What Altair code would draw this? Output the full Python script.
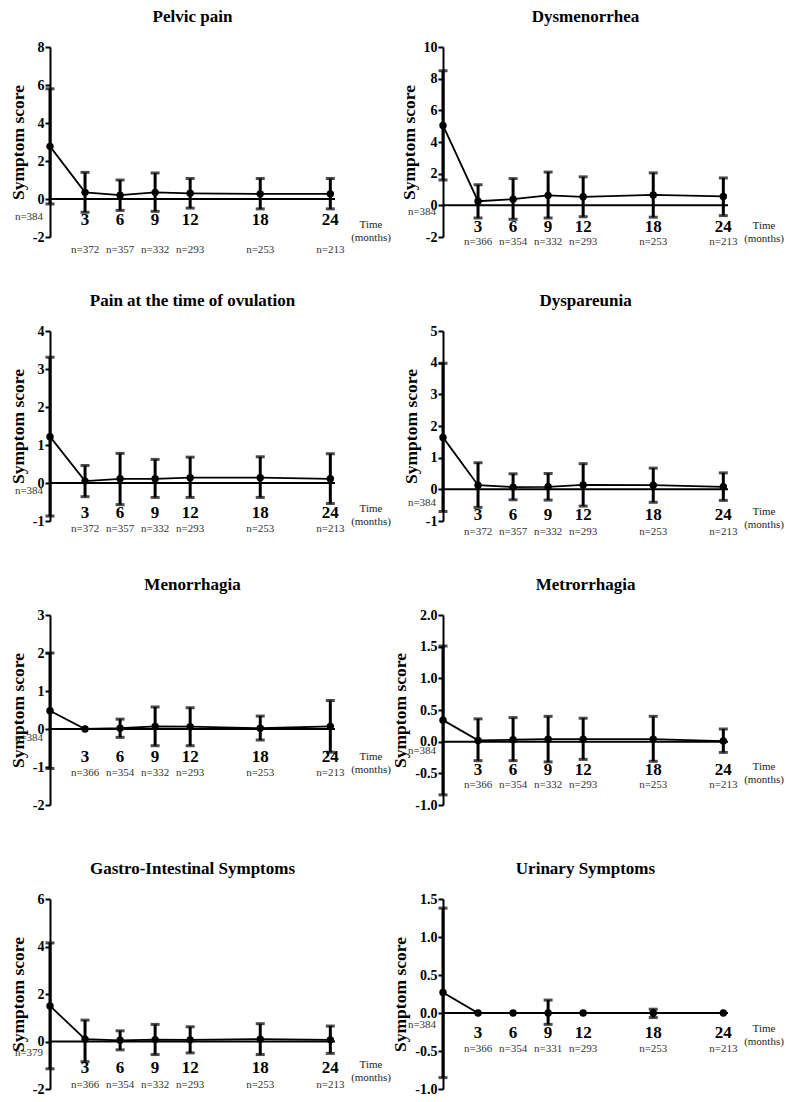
import altair as alt
import pandas as pd

months = [0, 3, 6, 9, 12, 18, 24]

titles = ["Pelvic pain", "Dysmenorrhea", "Pain at the time of ovulation", "Dyspareunia",
          "Menorrhagia", "Metrorrhagia", "Gastro-Intestinal Symptoms", "Urinary Symptoms"]

pelvic_mean = [2.77, 0.35, 0.20, 0.35, 0.30, 0.27, 0.27]
pelvic_upper = [5.80, 1.40, 1.00, 1.37, 1.08, 1.08, 1.08]
pelvic_lower = [-0.26, -0.70, -0.60, -0.65, -0.48, -0.52, -0.52]
pelvic_n = [384, 372, 357, 332, 293, 253, 213]

dysmen_mean = [5.05, 0.26, 0.39, 0.63, 0.54, 0.66, 0.56]
dysmen_upper = [8.50, 1.30, 1.69, 2.10, 1.80, 2.05, 1.73]
dysmen_lower = [1.60, -0.80, -0.88, -0.80, -0.72, -0.75, -0.65]
dysmen_n = [384, 366, 354, 332, 293, 253, 213]

ovul_mean = [1.22, 0.05, 0.11, 0.11, 0.14, 0.14, 0.11]
ovul_upper = [3.31, 0.46, 0.78, 0.62, 0.68, 0.69, 0.77]
ovul_lower = [-0.87, -0.36, -0.57, -0.38, -0.38, -0.38, -0.54]
ovul_n = [384, 372, 357, 332, 293, 253, 213]

dyspar_mean = [1.64, 0.13, 0.07, 0.08, 0.14, 0.13, 0.08]
dyspar_upper = [3.98, 0.84, 0.49, 0.50, 0.81, 0.67, 0.52]
dyspar_lower = [-0.70, -0.57, -0.33, -0.34, -0.53, -0.41, -0.35]
dyspar_n = [384, 372, 357, 332, 293, 253, 213]

menor_mean = [0.48, 0.00, 0.02, 0.07, 0.06, 0.02, 0.07]
menor_upper = [2.00, 0.00, 0.26, 0.58, 0.56, 0.34, 0.75]
menor_lower = [-1.04, 0.00, -0.22, -0.44, -0.44, -0.29, -0.61]
menor_n = [384, 366, 354, 332, 293, 253, 213]

metror_mean = [0.34, 0.02, 0.03, 0.04, 0.04, 0.04, 0.01]
metror_upper = [1.51, 0.36, 0.38, 0.40, 0.37, 0.40, 0.20]
metror_lower = [-0.84, -0.30, -0.30, -0.32, -0.28, -0.31, -0.17]
metror_n = [384, 366, 354, 332, 293, 253, 213]

gi_mean = [1.50, 0.10, 0.05, 0.08, 0.07, 0.10, 0.07]
gi_upper = [4.15, 0.90, 0.45, 0.72, 0.62, 0.75, 0.65]
gi_lower = [-1.15, -0.85, -0.35, -0.55, -0.48, -0.55, -0.50]
gi_n = [379, 366, 354, 332, 293, 253, 213]

urin_mean = [0.27, 0.00, 0.00, 0.00, 0.00, 0.00, 0.00]
urin_upper = [1.38, 0.00, 0.00, 0.17, 0.00, 0.05, 0.00]
urin_lower = [-0.85, 0.00, 0.00, -0.15, 0.00, -0.06, 0.00]
urin_n = [384, 366, 354, 331, 293, 253, 213]

y_domains = [[-2, 8], [-2, 10], [-1, 4], [-1, 5], [-2, 3], [-1, 2], [-2, 6], [-1, 1.5]]
y_ticks = [[-2, 0, 2, 4, 6, 8], [-2, 0, 2, 4, 6, 8, 10], [-1, 0, 1, 2, 3, 4], [-1, 0, 1, 2, 3, 4, 5],
           [-2, -1, 0, 1, 2, 3], [-1.0, -0.5, 0.0, 0.5, 1.0, 1.5, 2.0], [-2, 0, 2, 4, 6],
           [-1.0, -0.5, 0.0, 0.5, 1.0, 1.5]]
y_formats = ["d", "d", "d", "d", "d", ".1f", "d", ".1f"]

series = [
    (pelvic_mean, pelvic_upper, pelvic_lower, pelvic_n),
    (dysmen_mean, dysmen_upper, dysmen_lower, dysmen_n),
    (ovul_mean, ovul_upper, ovul_lower, ovul_n),
    (dyspar_mean, dyspar_upper, dyspar_lower, dyspar_n),
    (menor_mean, menor_upper, menor_lower, menor_n),
    (metror_mean, metror_upper, metror_lower, metror_n),
    (gi_mean, gi_upper, gi_lower, gi_n),
    (urin_mean, urin_upper, urin_lower, urin_n),
]

# layout offsets (pixels) for the text under the zero line
label_dy = [21, 22, 30, 26, 28, 28, 26, 20]
n_dy = [51, 37, 46, 43, 44, 43, 43, 36]
n0_dy = [18, 7, 8, 14, 9, 9, 11, 12]
time_dy = [26, 21, 26, 23, 28, 25, 23, 16]

SERIF = "Liberation Serif"
W, H = 285, 190
YT = "Symptom score"


def panel(i):
    mean, upper, lower, n = series[i]
    df = pd.DataFrame({"month": months, "mean": mean, "upper": upper, "lower": lower, "n": n})
    base = alt.Chart(df).transform_calculate(
        zero="0", x0="0", x1="24.4",
        nlab="'n=' + datum.n", lab="toString(datum.month)"
    )
    first = base.transform_filter("datum.month == 0")
    xs = alt.Scale(domain=[0, 24.4], nice=False, zero=False)
    X = alt.X("month:Q", scale=xs, axis=None)
    yaxis = alt.Axis(
        title=YT, values=y_ticks[i], format=y_formats[i],
        labelExpr="replace(datum.label, '\u2212', '-')",
        labelOverlap=False, labelSeparation=0, labelFlush=False, labelBound=False,
        grid=False, domainWidth=2, domainColor="black", tickColor="black",
        tickWidth=2, tickSize=5, labelFont=SERIF, labelFontWeight="bold",
        labelFontSize=14, labelColor="black", labelPadding=1,
        titleFont=SERIF, titleFontWeight="bold", titleFontSize=17.5,
        titleColor="black", titlePadding=5,
    )
    ys = alt.Scale(domain=y_domains[i], nice=False, zero=False)

    def Y(field):
        return alt.Y(field, scale=ys, axis=yaxis)

    err = base.mark_rule(strokeWidth=3, color="black").encode(
        x=X, y=Y("lower:Q"), y2="upper:Q")
    capu = base.transform_filter("datum.upper > datum.mean + 0.001").mark_tick(
        orient="horizontal", size=9, thickness=3, color="black").encode(
        x=X, y=Y("upper:Q"))
    capl = base.transform_filter("datum.lower < datum.mean - 0.001").mark_tick(
        orient="horizontal", size=9, thickness=3, color="black").encode(
        x=X, y=Y("lower:Q"))
    zl = first.mark_rule(strokeWidth=2, color="black").encode(
        x=alt.X("x0:Q", scale=xs, axis=None), x2="x1:Q", y=Y("zero:Q"))
    line = base.mark_line(color="black", strokeWidth=1.8).encode(x=X, y=Y("mean:Q"))
    pts = base.mark_circle(size=55, color="black", opacity=1).encode(x=X, y=Y("mean:Q"))
    xl = base.transform_filter("datum.month > 0").mark_text(
        font=SERIF, fontWeight="bold", fontSize=17, dy=label_dy[i], color="black").encode(
        x=X, y=Y("zero:Q"), text="lab:N")
    nl = base.transform_filter("datum.month > 0").mark_text(
        font=SERIF, fontSize=11, dy=n_dy[i], color="#333").encode(
        x=X, y=Y("zero:Q"), text="nlab:N")
    n0 = first.mark_text(font=SERIF, fontSize=11, dy=n0_dy[i], color="#333").encode(
        x=alt.value(-21), y=Y("zero:Q"), text="nlab:N")
    t1 = first.mark_text(font=SERIF, fontSize=11, text="Time", dy=time_dy[i], color="#222").encode(
        x=alt.value(321), y=Y("zero:Q"))
    t2 = first.mark_text(font=SERIF, fontSize=11, text="(months)", dy=time_dy[i] + 13,
                         color="#222").encode(x=alt.value(321), y=Y("zero:Q"))
    ttl = first.mark_text(font=SERIF, fontSize=17, fontWeight="bold", text=titles[i],
                          color="black", baseline="middle").encode(
        x=alt.value(W / 2), y=alt.value(-30))

    return alt.layer(err, capu, capl, zl, line, pts, xl, nl, n0, t1, t2, ttl).properties(
        width=W, height=H)


chart = alt.concat(*[panel(i) for i in range(8)], columns=2,
                   spacing={"row": 94, "column": 108}, bounds="flush").properties(
    padding={"left": 1, "top": 0, "right": 5, "bottom": 5}
).configure_view(stroke=None).configure_axis(labelOverlap=False)

chart.save("out.html", embed_options={"renderer": "svg", "actions": False})
